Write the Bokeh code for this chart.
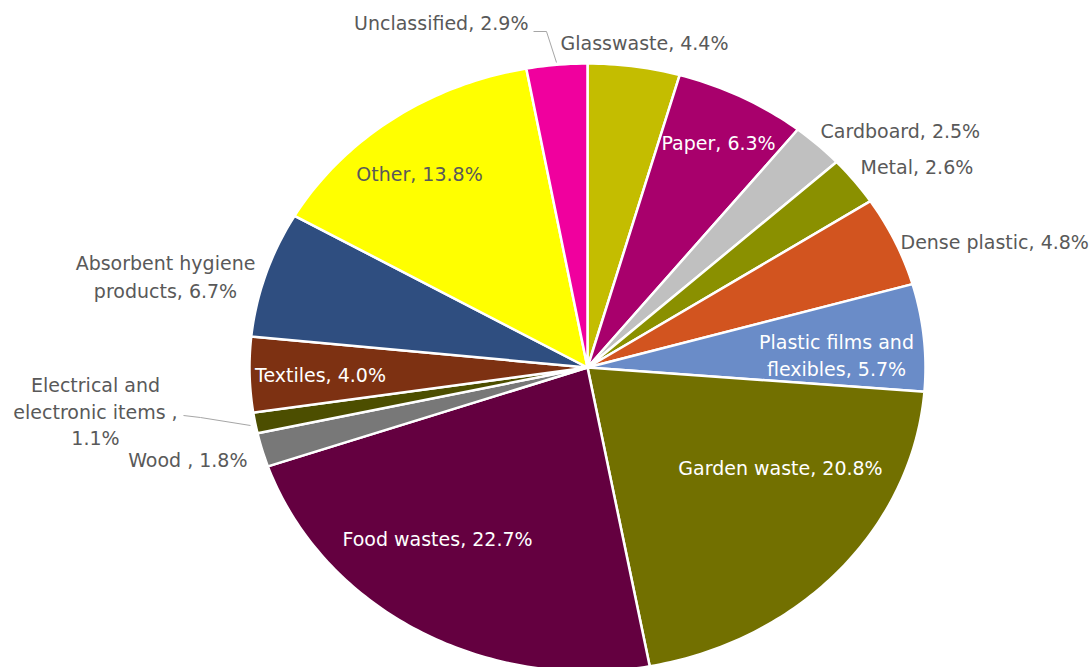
import math
from bokeh.plotting import figure
from bokeh.models import ColumnDataSource, Range1d
from bokeh.core.properties import value
from bokeh.embed import file_html
from bokeh.resources import INLINE

# ---- data ----
categories = ["Glasswaste", "Paper", "Cardboard", "Metal", "Dense plastic",
              "Plastic films and flexibles", "Garden waste", "Food wastes",
              "Wood", "Electrical and electronic items", "Textiles",
              "Absorbent hygiene products", "Other", "Unclassified"]
shares = [4.4, 6.3, 2.5, 2.6, 4.8, 5.7, 20.8, 22.7, 1.8, 1.1, 4.0, 6.7, 13.8, 2.9]
colors = ["#C4BD00", "#A8006C", "#C0C0C0", "#8A9000", "#D2541F",
          "#6A8CC8", "#727000", "#640040", "#787878", "#4C4E00",
          "#7D3112", "#2F4E80", "#FFFF00", "#F0009E"]

# label lines: (text, px_x, px_y, align, color)
label_lines = [
    ("Unclassified, 2.9%", 528, 22, "right", "#595959"),
    ("Glasswaste, 4.4%", 560, 42, "left", "#595959"),
    ("Paper, 6.3%", 661, 142, "left", "white"),
    ("Cardboard, 2.5%", 820, 130, "left", "#595959"),
    ("Metal, 2.6%", 860, 166, "left", "#595959"),
    ("Dense plastic, 4.8%", 900, 241, "left", "#595959"),
    ("Plastic films and", 836, 341, "center", "white"),
    ("flexibles, 5.7%", 836, 368, "center", "white"),
    ("Garden waste, 20.8%", 780, 467, "center", "white"),
    ("Food wastes, 22.7%", 437, 538, "center", "white"),
    ("Wood , 1.8%", 247, 459, "right", "#595959"),
    ("Electrical and", 95, 384, "center", "#595959"),
    ("electronic items ,", 95, 411, "center", "#595959"),
    ("1.1%", 95, 437, "center", "#595959"),
    ("Textiles, 4.0%", 320, 374, "center", "white"),
    ("Absorbent hygiene", 165, 262, "center", "#595959"),
    ("products, 6.7%", 165, 290, "center", "#595959"),
    ("Other, 13.8%", 419, 173, "center", "#595959"),
]

# leader lines in pixel coords
leaders = [
    [(533, 31), (546, 31), (556, 62)],
    [(183, 415), (200, 417), (250, 425)],
]

W, H = 1091, 667
CX, CY, RX, RY = 587, 367, 338, 304

def px_to_data(px, py):
    return (px - CX) / RX, (CY - py) / RY

p = figure(width=W, height=H, output_backend="svg", toolbar_location=None,
           x_range=Range1d(-CX / RX, (W - CX) / RX),
           y_range=Range1d(-(H - CY) / RY, CY / RY),
           min_border=0, outline_line_color=None)
p.axis.visible = False
p.grid.visible = False
p.background_fill_color = "white"
p.border_fill_color = "white"

total = sum(shares)
xs, ys = [], []
cum = 0.0
for s in shares:
    a0 = cum / total * 2 * math.pi
    cum += s
    a1 = cum / total * 2 * math.pi
    n = max(4, int((a1 - a0) / (2 * math.pi) * 400))
    px_ = [0.0]
    py_ = [0.0]
    for i in range(n + 1):
        a = a0 + (a1 - a0) * i / n
        px_.append(math.sin(a))
        py_.append(math.cos(a))
    xs.append(px_)
    ys.append(py_)

src = ColumnDataSource(dict(xs=xs, ys=ys, color=colors, cat=categories))
p.patches("xs", "ys", source=src, fill_color="color", line_color="white",
          line_width=2.5, line_join="round")

for pts in leaders:
    lx = [px_to_data(a, b)[0] for a, b in pts]
    ly = [px_to_data(a, b)[1] for a, b in pts]
    p.line(lx, ly, line_color="#A6A6A6", line_width=1)

for align in ["left", "right", "center"]:
    sel = [l for l in label_lines if l[3] == align]
    if not sel:
        continue
    tx = [px_to_data(l[1], l[2])[0] for l in sel]
    ty = [px_to_data(l[1], l[2])[1] for l in sel]
    ts = ColumnDataSource(dict(x=tx, y=ty, text=[l[0] for l in sel],
                               color=[l[4] for l in sel]))
    p.text("x", "y", text="text", source=ts, text_color="color",
           text_align=align, text_baseline="middle",
           text_font=value("DejaVu Sans"), text_font_size="19px")

open("out.html", "w").write(file_html(p, INLINE))
